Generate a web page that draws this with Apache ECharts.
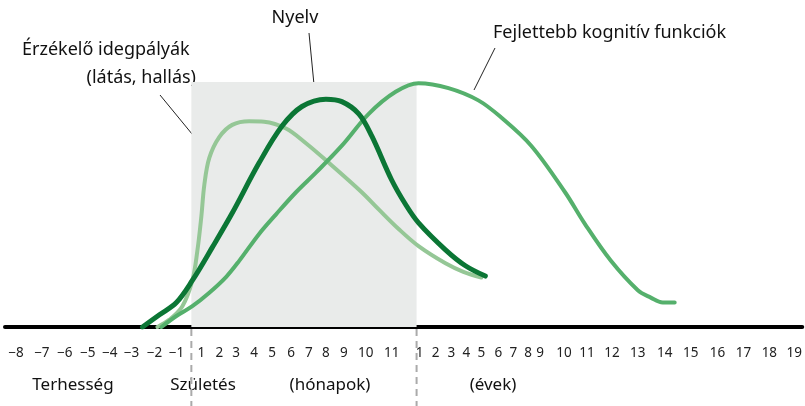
<!DOCTYPE html>
<html><head><meta charset="utf-8">
<script src="https://cdn.jsdelivr.net/npm/echarts@6/dist/echarts.min.js"></script>
<style>html,body{margin:0;padding:0;background:#fff}#c{width:805px;height:406px}</style>
</head><body><div id="c"></div>
<script>
// Tick positions along the (non-uniform) developmental time axis and their labels
const tickPos = [16,42,65,88,110,132,155,177, 202,220,237,255,273,292,310,327,345,367,393, 421,437,453,468,483,500,515,530,542,566,589,614,640,667,693,720,746,772,797];
const tickLabels = ['−8','−7','−6','−5','−4','−3','−2','−1', '1','2','3','4','5','6','7','8','9','10','11', '1','2','3','4','5','6','7','8','9','10','11','12','13','14','15','16','17','18','19'];
const birthPos = 192, yearPos = 418;

// Curves: [time position, relative intensity 0-100]
const sensory = [[158,0],[170,3],[183,8.5],[193,19],[198,31],[202,45],[205,58],[210,69],[220,77.5],[233,82.5],[250,84],[265,83.8],[287,81],[307,75],[330,67],[363,55],[380,48],[400,40],[420,33],[447,26],[465,22.5],[483,20.2]];
const language = [[143,0],[160,5],[177,10],[193,19],[213,32.5],[233,46.5],[260,67],[283,82],[303,90],[327,93],[343,92],[360,87],[373,78],[393,60],[407,50],[420,42.5],[447,31.5],[467,25],[487,20.8]];
const cognitive = [[162,0],[177,4.5],[193,8.5],[210,14],[227,20.5],[240,27],[260,38],[277,46],[297,55],[317,63],[343,74],[370,87],[397,96],[420,99.5],[450,97.5],[480,92.5],[503,85.5],[533,74],[567,55],[587,42],[613,27],[640,15],[653,12],[665,10],[677,10]];

const annotations = [
  {text:'Nyelv', x:295, y:18, align:'center'},
  {text:'Fejlettebb kognitív funkciók', x:493, y:33, align:'left'},
  {text:'Érzékelő idegpályák', x:22, y:50, align:'left'},
  {text:'(látás, hallás)', x:196, y:78, align:'right'}
];
const bottomLabels = [
  {text:'Terhesség', x:73}, {text:'Születés', x:203}, {text:'(hónapok)', x:330}, {text:'(évek)', x:493}
];

const FONT = 'Noto Sans';
const chart = echarts.init(document.getElementById('c'), null, {renderer:'canvas'});
const lineSeries = (name, data, color, width, z) => ({
  name, type:'line', data, smooth:0.35, showSymbol:false, z,
  lineStyle:{color, width, cap:'round', join:'round'}
});
const option = {
  animation:false,
  grid:{left:5, right:0, top:82, bottom:79},
  xAxis:{type:'value', min:5, max:805,
    axisLine:{show:true, onZero:false, lineStyle:{color:'#000', width:4}},
    axisTick:{show:false}, splitLine:{show:false},
    axisLabel:{customValues:tickPos, margin:19, fontFamily:FONT, fontSize:13.5, color:'#222',
      formatter:(v)=>{const i=tickPos.indexOf(v); return i>=0?tickLabels[i]:'';}}
  },
  yAxis:{type:'value', min:0, max:100, show:false},
  series:[
    Object.assign(lineSeries('Érzékelő idegpályák', sensory, '#95c796', 4, 3), {
      markArea:{silent:true, itemStyle:{color:'#e9ebea'}, data:[[{xAxis:birthPos, yAxis:0},{xAxis:yearPos, yAxis:100}]], z:1}
    }),
    lineSeries('Fejlettebb kognitív funkciók', cognitive, '#55b06c', 4, 4),
    lineSeries('Nyelv', language, '#0b7635', 5, 5)
  ]
};
chart.setOption(option);

const px = (x,y)=>chart.convertToPixel({gridIndex:0},[x,y]);
const g = [];
annotations.forEach(a=>g.push({type:'text', x:a.x, y:a.y, style:{text:a.text, fill:'#111', font:'18px "'+FONT+'"', textAlign:a.align, textVerticalAlign:'middle'}}));
bottomLabels.forEach(a=>g.push({type:'text', x:a.x, y:385, style:{text:a.text, fill:'#111', font:'17px "'+FONT+'"', textAlign:'center', textVerticalAlign:'middle'}}));
[birthPos, yearPos].forEach(p=>{
  const a = px(p,0);
  g.push({type:'line', shape:{x1:a[0], y1:a[1]+2, x2:a[0], y2:406}, style:{stroke:'#aaa', lineWidth:2, lineDash:[7,5]}});
});
// leader lines
const leaders = [[309,33,315,95],[495,48,474,90],[160,95,206,151]];
leaders.forEach(l=>g.push({type:'line', shape:{x1:l[0],y1:l[1],x2:l[2],y2:l[3]}, style:{stroke:'#222', lineWidth:1}}));
chart.setOption({graphic:g});
</script></body></html>
